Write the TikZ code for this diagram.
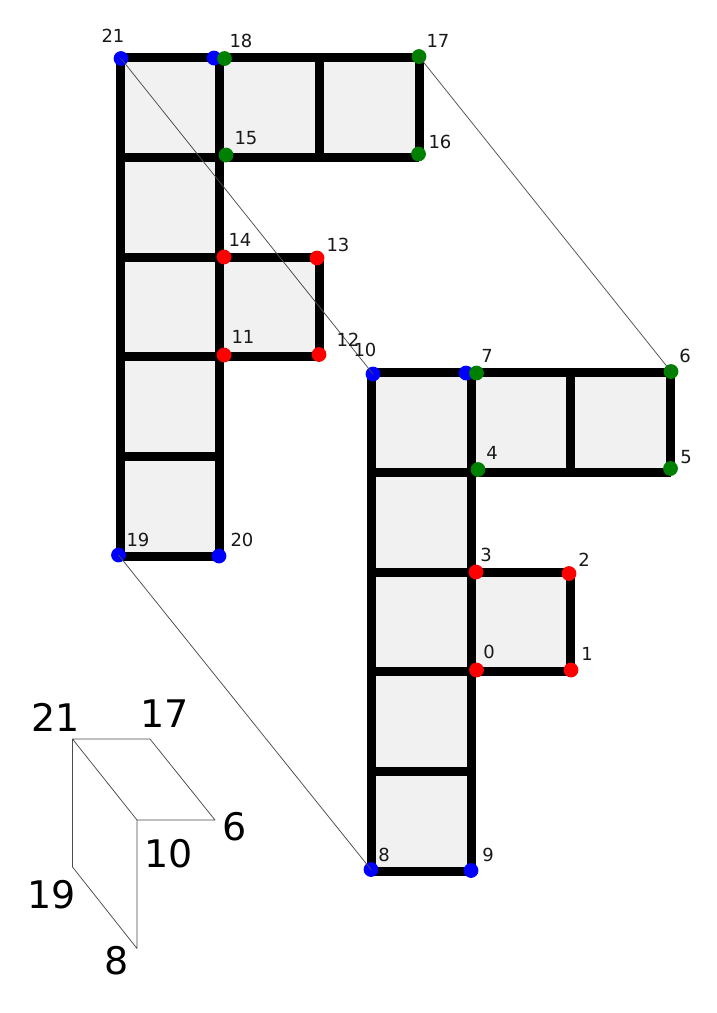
\documentclass[tikz,border=0pt]{standalone}
\usepackage{fontspec}
\setmainfont{DejaVu Sans}
\definecolor{cellfill}{HTML}{F1F1F1}
\definecolor{dotgreen}{HTML}{008000}
\tikzset{
  thickedge/.style={line width=9pt,black,line cap=butt},
  thinedge/.style={line width=0.75pt,black!70,line cap=round},
  vertexdot/.style={circle,inner sep=0pt,minimum size=14.8pt,fill=#1},
  smalllabel/.style={inner sep=0pt,text=black!90,font=\fontsize{18}{18}\selectfont},
  biglabel/.style={inner sep=0pt,text=black,font=\fontsize{38}{38}\selectfont},
  fshape/.pic={
    \fill[cellfill] (0,0) rectangle (299,100) (0,100) rectangle (99.5,499) (99.5,200) rectangle (199,299.5);
    \draw[thickedge] (0,0) -- (0,499);
    \draw[thickedge] (99.5,0) -- (99.5,499);
    \draw[thickedge] (199,0) -- (199,100);
    \draw[thickedge] (199,200) -- (199,299.5);
    \draw[thickedge] (299,0) -- (299,100);
    \draw[thickedge] (0,0) -- (299,0);
    \draw[thickedge] (0,100) -- (299,100);
    \draw[thickedge] (0,200) -- (199,200);
    \draw[thickedge] (0,299.5) -- (199,299.5);
    \draw[thickedge] (0,399.5) -- (99.5,399.5);
    \draw[thickedge] (0,499) -- (99.5,499);
  }
}
\begin{document}
\begin{tikzpicture}[x=1pt,y=-1pt]
\useasboundingbox (0,0) rectangle (717,1013);
\fill[white] (0,0) rectangle (717,1013);
\pic at (120,57) {fshape};
\pic at (371.5,372) {fshape};
% left F vertices
\node[vertexdot=blue] (v21) at (121,58.5) {};
\node[vertexdot=blue] (vb18) at (214,58) {};
\node[vertexdot=dotgreen] (v18) at (224.5,58.5) {};
\node[vertexdot=dotgreen] (v17) at (419,56.5) {};
\node[vertexdot=dotgreen] (v15) at (226,155) {};
\node[vertexdot=dotgreen] (v16) at (418.5,154) {};
\node[vertexdot=red] (v14) at (224,257) {};
\node[vertexdot=red] (v13) at (317,258) {};
\node[vertexdot=red] (v11) at (224,355) {};
\node[vertexdot=red] (v12) at (319,354.5) {};
\node[vertexdot=blue] (v19) at (118.5,555) {};
\node[vertexdot=blue] (v20) at (219,556) {};
% right F vertices
\node[vertexdot=blue] (v10) at (373,374) {};
\node[vertexdot=blue] (vb7) at (466,373) {};
\node[vertexdot=dotgreen] (v7) at (476.5,373) {};
\node[vertexdot=dotgreen] (v6) at (671,371.5) {};
\node[vertexdot=dotgreen] (v4) at (478,469.5) {};
\node[vertexdot=dotgreen] (v5) at (670.5,468.5) {};
\node[vertexdot=red] (v3) at (476,572) {};
\node[vertexdot=red] (v2) at (569,573.5) {};
\node[vertexdot=red] (v0) at (476.5,670) {};
\node[vertexdot=red] (v1) at (571,670) {};
\node[vertexdot=blue] (v8) at (371,869.5) {};
\node[vertexdot=blue] (v9) at (471,870.5) {};
% mapping lines
\draw[thinedge] (v21.center) -- (v10.center);
\draw[thinedge] (v17.center) -- (v6.center);
\draw[thinedge] (v19.center) -- (v8.center);
% small labels
\node[smalllabel] (t21) at (113,36) {21};
\node[smalllabel] (t18) at (241,41) {18};
\node[smalllabel] (t17) at (438,41) {17};
\node[smalllabel] (t15) at (246,138) {15};
\node[smalllabel] (t16) at (440,142) {16};
\node[smalllabel] (t14) at (240,240) {14};
\node[smalllabel] (t13) at (338,245) {13};
\node[smalllabel] (t11) at (243,337) {11};
\node[smalllabel] (t12) at (348,340) {12};
\node[smalllabel] (t10) at (365,350) {10};
\node[smalllabel] (t19) at (138,540) {19};
\node[smalllabel] (t20) at (242,540) {20};
\node[smalllabel] (t7) at (487,356) {7};
\node[smalllabel] (t6) at (685,356) {6};
\node[smalllabel] (t4) at (492,453) {4};
\node[smalllabel] (t5) at (686,457) {5};
\node[smalllabel] (t3) at (486,555) {3};
\node[smalllabel] (t2) at (584,560) {2};
\node[smalllabel] (t0) at (489,652) {0};
\node[smalllabel] (t1) at (587,654) {1};
\node[smalllabel] (t8) at (384,855) {8};
\node[smalllabel] (t9) at (488,855) {9};
% small folded figure
\coordinate (a21) at (72.5,739);
\coordinate (a17) at (150,739);
\coordinate (a10) at (137,820);
\coordinate (a6) at (215,820);
\coordinate (a19) at (72.5,867);
\coordinate (a8) at (137,948.5);
\draw[thinedge,line join=round] (a21) -- (a17) -- (a6) -- (a10) -- (a21) -- (a19) -- (a8) -- (a10);
\node[biglabel] (b21) at (55.5,717.7) {21};
\node[biglabel] (b17) at (164.5,713.5) {17};
\node[biglabel] (b6) at (235,826.5) {6};
\node[biglabel] (b10) at (168.5,853.5) {10};
\node[biglabel] (b19) at (51.5,894.5) {19};
\node[biglabel] (b8) at (116.5,960.5) {8};
\end{tikzpicture}
\end{document}
